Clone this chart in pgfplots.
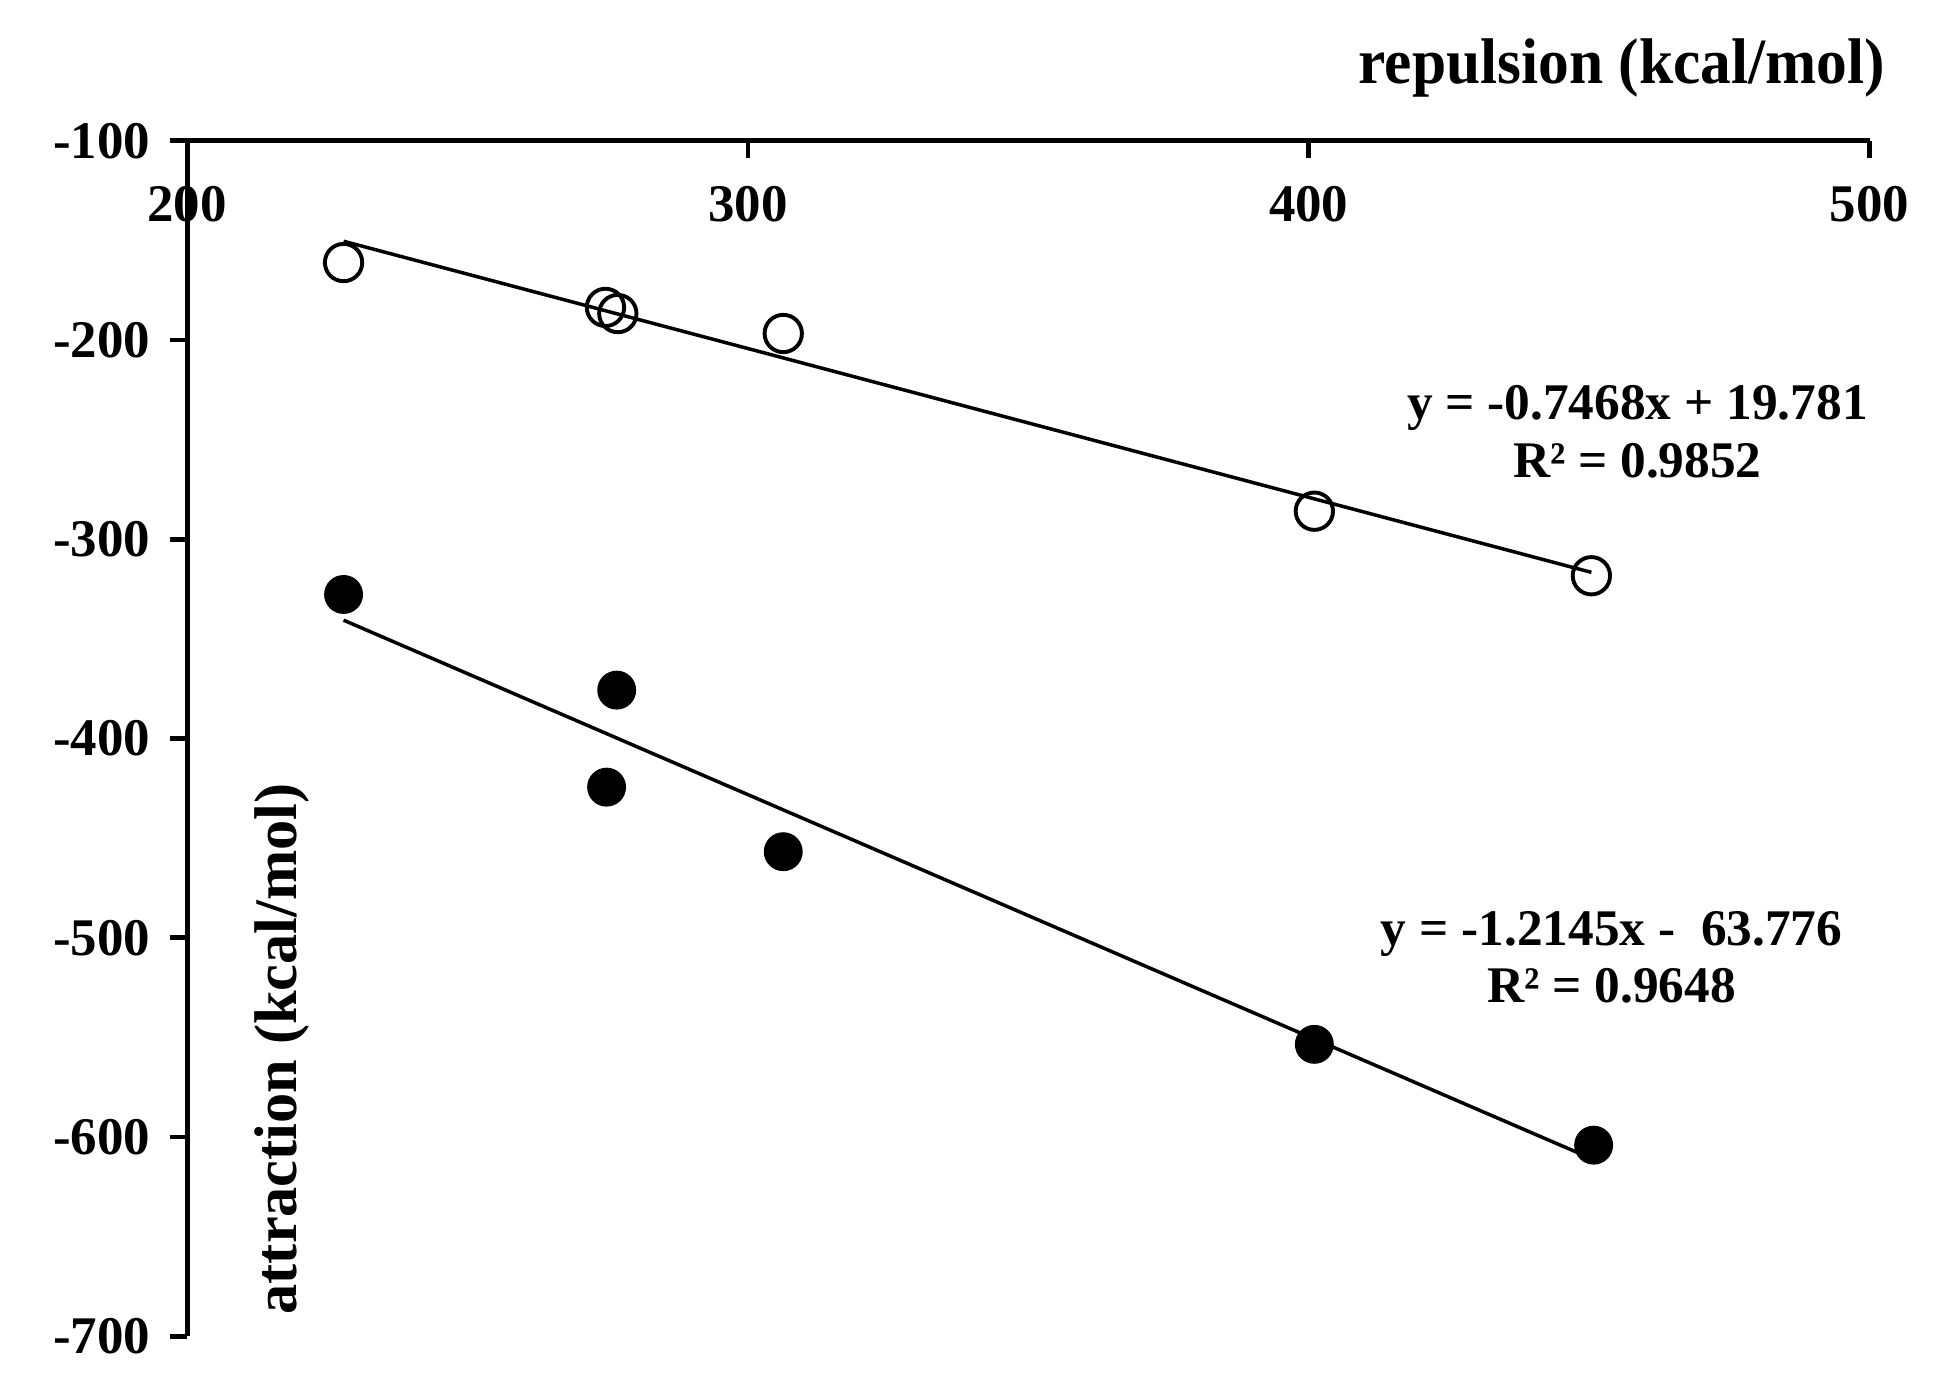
\documentclass[border=0pt]{standalone}
\usepackage{pgfplots}
\pgfplotsset{compat=1.18}
\usepackage{fontspec}
\setmainfont{Liberation Serif}
\begin{document}
\begin{tikzpicture}
\path[use as bounding box] (-48.1pt,-15.5pt) rectangle (451.9pt,343.5pt);
\begin{axis}[
  at={(0,0)}, anchor=south west,
  scale only axis, width=432.5pt, height=307.3pt,
  xmin=200, xmax=500, ymin=-700, ymax=-100,
  axis x line*=top, axis y line*=left,
  axis line style={line width=1.3pt, -},
  xtick={200,300,400,500}, xticklabels={200,300,400,500},
  ytick={-700,-600,-500,-400,-300,-200,-100},
  yticklabels={-700,-600,-500,-400,-300,-200,-100},
  x tick style={line width=1.2pt, black}, y tick style={line width=1.2pt, black},
  xtick align=inside, ytick align=outside,
  major tick length=4.5pt,
  xticklabel style={anchor=base, yshift=-20.8pt, font=\fontsize{13.6}{15}\selectfont\bfseries},
  yticklabel style={anchor=east, xshift=-1.5pt, font=\fontsize{13.6}{15}\selectfont\bfseries},
  clip=false,
]
\addplot[only marks, mark=o, mark size=4.8pt, mark options={line width=1pt, black}] coordinates {
 (227.9,-161.1) (274.6,-183.6) (276.8,-186.7) (306.3,-196.7) (401.0,-285.9) (450.4,-318.3)};
\addplot[only marks, mark=*, mark size=4.8pt, mark options={black, fill=black}] coordinates {
 (227.9,-327.7) (276.6,-375.7) (274.8,-424.4) (306.3,-456.8) (401.0,-553.5) (450.8,-604.1)};
\addplot[black, line width=0.9pt] coordinates {(227.9,-150.4) (450.4,-316.6)};
\addplot[black, line width=0.9pt] coordinates {(227.9,-340.6) (450.8,-611.3)};
\node[align=center, font=\fontsize{13.2}{14.7}\selectfont\bfseries, inner sep=0pt] at (axis cs:458.6,-246.0) {y = -0.7468x + 19.781\\R² = 0.9852};
\node[align=center, font=\fontsize{13.2}{14.7}\selectfont\bfseries, inner sep=0pt] at (axis cs:454.0,-509.9) {y = -1.2145x -\ \ 63.776\\R² = 0.9648};
\node[anchor=base east, inner sep=0pt, font=\fontsize{15.8}{18}\selectfont\bfseries] at ([xshift=4.2pt, yshift=14.7pt]rel axis cs:1,1) {\scalebox{1}[1.05]{repulsion (kcal/mol)}};
\node[rotate=90, anchor=base west, inner sep=0pt, font=\fontsize{15.5}{18}\selectfont\bfseries] at ([xshift=-0.5pt]rel axis cs:0.0664,0.0177) {attraction (kcal/mol)};
\end{axis}
\end{tikzpicture}
\end{document}
